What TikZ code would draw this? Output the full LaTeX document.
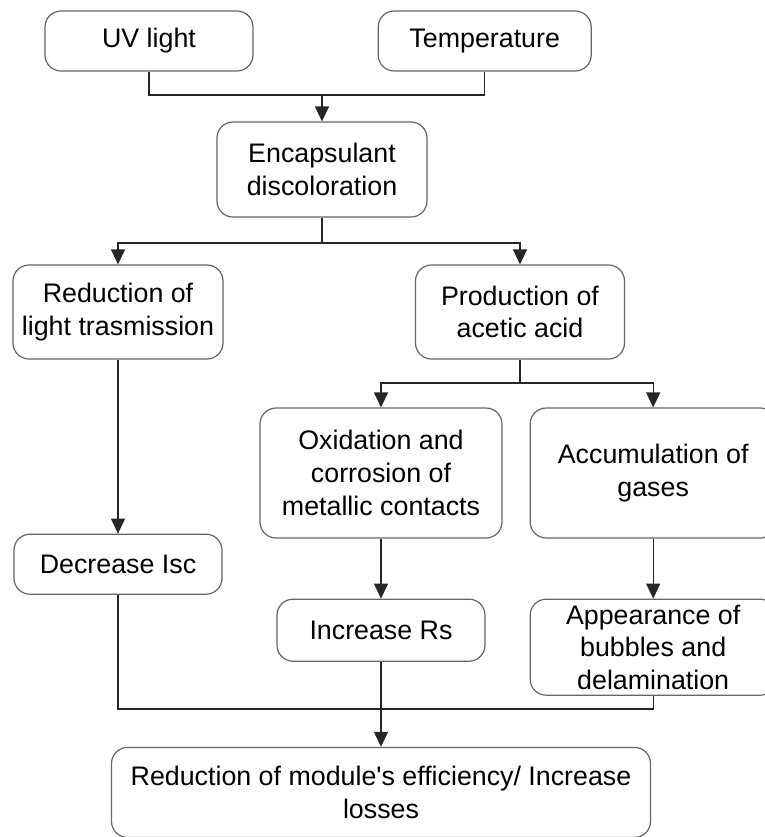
\documentclass[tikz,border=0pt]{standalone}
\usepackage{fontspec}
\setmainfont{Liberation Sans}
\usetikzlibrary{arrows.meta, positioning}

\begin{document}
\begin{tikzpicture}[
    x=1pt, y=1pt,
    node distance=30pt and 13.5pt,
    box/.style={rectangle, rounded corners=8pt, draw=black!60, line width=0.6pt, minimum width=104pt, minimum height=30pt, align=center, inner sep=1.5pt, font=\fontsize{13.4}{16.3}\selectfont},
    arrow/.style={-{Triangle[length=7.5pt, width=7pt]}, line width=0.6pt, black!85},
    line/.style={line width=0.6pt, black!85}
]
    \path[use as bounding box] (0,0) rectangle (382.5,-418.5);
    \clip (0,0) rectangle (382.5,-418.5);

    % Causes
    \node[box] (uv) at (74.5,-20.5) {UV light};
    \node[box, minimum width=106.5pt, right=62pt of uv] (temp) {Temperature};

    % Discoloration
    \node[box, minimum width=105pt, minimum height=47.5pt] (encap) at (161,-84.75) {Encapsulant\\discoloration};

    % First effects
    \node[box, minimum width=105pt, minimum height=47pt] (redlight) at (59,-156) {Reduction of\\light trasmission};
    \node[box, minimum width=104.5pt, minimum height=47pt] (acetic) at (260,-156) {Production of\\acetic acid};

    % Acid effects
    \node[box, minimum width=121pt, minimum height=65pt] (oxid) at (190.5,-236.5) {Oxidation and\\corrosion of\\metallic contacts};
    \node[box, minimum width=123pt, minimum height=65pt, right=of oxid] (gases) {Accumulation of\\gases};

    % Electrical effects
    \node[box, below=87pt of redlight] (isc) {Decrease Isc};
    \node[box, minimum height=31pt, below=of oxid] (rs) {Increase Rs};
    \node[box, minimum width=123pt, minimum height=48pt, below=of gases] (bubbles) {Appearance of\\bubbles and\\delamination};

    % Result
    \node[box, minimum width=269.5pt, minimum height=45pt, below=42.5pt of rs] (loss) {Reduction of module\textquotesingle s efficiency/ Increase\\losses};

    % Junctions
    \coordinate (j1) at (161,-47.5);
    \coordinate (j2) at (161,-121.5);
    \coordinate (j3) at (260,-191.5);
    \coordinate (j4) at (190.5,-354.5);

    \draw[line] (uv) |- (j1) -| (temp);
    \draw[arrow] (j1) -- (encap);
    \draw[line] (encap) -- (j2);
    \draw[arrow] (j2) -| (redlight);
    \draw[arrow] (j2) -| (acetic);
    \draw[line] (acetic) -- (j3);
    \draw[arrow] (j3) -| (oxid);
    \draw[arrow] (j3) -| (gases);
    \draw[arrow] (redlight) -- (isc);
    \draw[arrow] (oxid) -- (rs);
    \draw[arrow] (gases) -- (bubbles);
    \draw[line] (isc) |- (j4) -| (bubbles);
    \draw[arrow] (rs) -- (loss);
\end{tikzpicture}
\end{document}
